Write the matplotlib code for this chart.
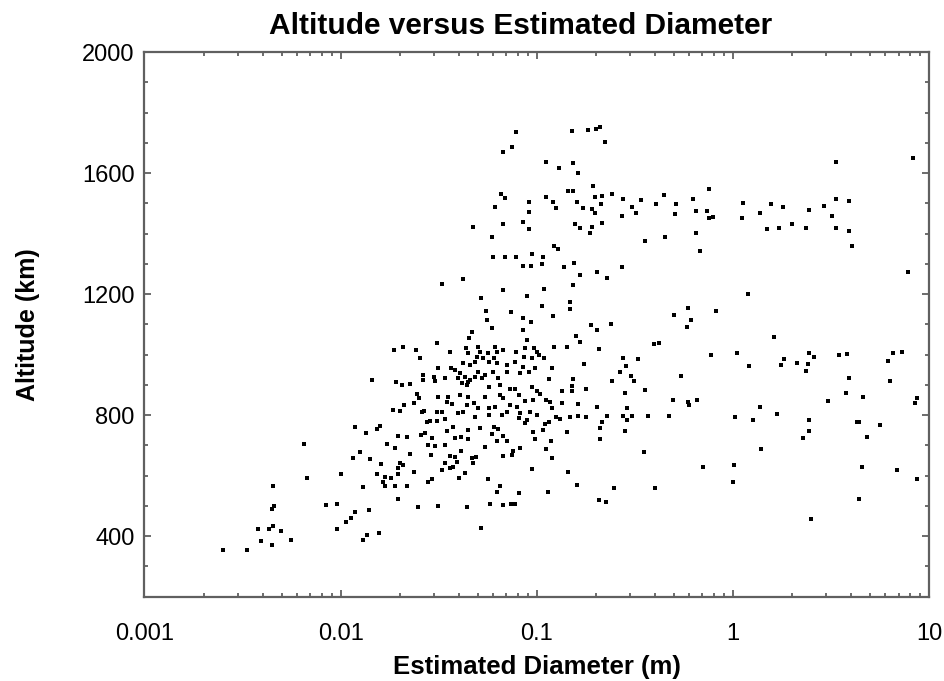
import numpy as np
import matplotlib
matplotlib.use("Agg")
import matplotlib.pyplot as plt
from matplotlib.ticker import FixedLocator, FixedFormatter, LogLocator, NullFormatter, MultipleLocator

plt.rcParams['font.family'] = ['Liberation Sans', 'DejaVu Sans']

# estimated diameter (m) and altitude (km) of each tracked object
diameter_m = [
    0.00250, 0.00332, 0.00391, 0.00445, 0.00380, 0.00432, 0.00450, 0.00495, 0.00558, 0.00450,
    0.00458, 0.00448, 0.00650, 0.00676, 0.00845, 0.00957, 0.00957, 0.0130, 0.0136, 0.0157,
    0.0188, 0.0208, 0.0242, 0.0254, 0.0309, 0.0312, 0.0145, 0.0192, 0.0205, 0.0227,
    0.0264, 0.0264, 0.0300, 0.0303, 0.0244, 0.0251, 0.0313, 0.0237, 0.0211, 0.0186,
    0.0200, 0.0259, 0.0267, 0.0309, 0.0119, 0.0134, 0.0153, 0.0159, 0.0197, 0.0218,
    0.0257, 0.0269, 0.0275, 0.0286, 0.0309, 0.0292, 0.0279, 0.0303, 0.0172, 0.0189,
    0.0125, 0.0115, 0.0141, 0.0226, 0.0289, 0.0161, 0.0200, 0.0208, 0.0197, 0.0100,
    0.0153, 0.0197, 0.0237, 0.0168, 0.0181, 0.0165, 0.0279, 0.0292, 0.0130, 0.0168,
    0.0189, 0.0218, 0.0197, 0.0247, 0.0119, 0.0140, 0.0113, 0.0106, 0.0312,
    0.0557, 0.0595, 0.0847, 0.0934, 0.0847, 0.0891, 0.0467, 0.0453, 0.0362, 0.0434,
    0.0444, 0.0504, 0.0515, 0.0494, 0.0535, 0.0564, 0.0614, 0.0626, 0.0608, 0.0677,
    0.0783, 0.0874, 0.0973, 0.0857, 0.0945, 0.0777, 0.0423, 0.0459, 0.0485, 0.0568,
    0.0626, 0.0704, 0.0847, 0.0981, 0.0366, 0.0383, 0.0407, 0.0504, 0.0546, 0.0601,
    0.0704, 0.0824, 0.0909, 0.0398, 0.0431, 0.0459, 0.0485, 0.0524, 0.0638, 0.0341,
    0.0415, 0.0440, 0.0448, 0.0568, 0.0651, 0.0732, 0.0777, 0.0945, 0.100, 0.0354,
    0.0407, 0.0448, 0.0546, 0.0651, 0.0677, 0.0810, 0.0874, 0.0961, 0.0347, 0.0369,
    0.0440, 0.0481, 0.0504, 0.0568, 0.0614, 0.0732, 0.0791, 0.0328, 0.0398, 0.0423,
    0.0568, 0.0664, 0.0704, 0.0824, 0.0927, 0.0999, 0.0485, 0.0810,
    0.121, 0.189, 0.202, 0.239, 0.158, 0.166, 0.123, 0.142, 0.209, 0.100,
    0.103, 0.109, 0.175, 0.120, 0.276, 0.330, 0.284, 0.266, 0.302, 0.313,
    0.243, 0.115, 0.154, 0.151, 0.152, 0.134, 0.178, 0.104, 0.282, 0.112,
    0.117, 0.134, 0.162, 0.202, 0.288, 0.120, 0.125, 0.148, 0.163, 0.178,
    0.228, 0.276, 0.305, 0.357,
    0.0341, 0.0891, 0.0347, 0.0376, 0.0448, 0.0515, 0.0608, 0.0638, 0.0874, 0.0961,
    0.0383, 0.0412, 0.0448, 0.0592, 0.0626, 0.0677, 0.0704, 0.0981, 0.0341, 0.0546,
    0.0411, 0.0824, 0.0760, 0.0677, 0.0748, 0.0362, 0.0383, 0.0467, 0.0489, 0.0341,
    0.0391, 0.0475, 0.0362, 0.0376, 0.0330, 0.0431, 0.0402, 0.0945, 0.0564, 0.0651,
    0.0626, 0.0810, 0.0442, 0.0575, 0.0672, 0.0739, 0.0777, 0.0520,
    0.110, 0.115, 0.131, 0.215, 0.210, 0.288, 0.108, 0.142, 0.118, 0.210,
    0.282, 0.112, 0.120, 0.354, 0.144, 0.160, 0.114, 0.249, 0.207, 0.226,
    0.371, 0.401, 0.396, 0.422,
    0.0780, 0.0677, 0.0748, 0.151, 0.183, 0.201, 0.210, 0.223, 0.112, 0.130,
    0.154, 0.163, 0.194, 0.145, 0.154, 0.198, 0.215, 0.241, 0.274, 0.307,
    0.321, 0.271, 0.339, 0.406, 0.445, 0.0660, 0.0686, 0.0614, 0.0909, 0.0909,
    0.112, 0.121, 0.126, 0.160, 0.173, 0.191, 0.198, 0.212, 0.0472, 0.0672,
    0.0850, 0.0909, 0.0592, 0.157, 0.166, 0.191, 0.187, 0.215, 0.357, 0.451,
    0.123, 0.129, 0.0600, 0.0686, 0.0785, 0.0945, 0.108, 0.0850, 0.0934, 0.106,
    0.137, 0.155, 0.166, 0.202, 0.228, 0.271, 0.0328, 0.0423, 0.154, 0.0520,
    0.0677, 0.0897, 0.109, 0.0553, 0.0738, 0.106, 0.147, 0.147,
    3.36, 8.29, 0.759, 0.513, 0.625, 0.508, 0.649, 0.737, 0.759, 0.791,
    1.13, 1.12, 1.37, 1.57, 1.81, 2.45, 2.90, 3.36, 3.93, 3.20,
    1.49, 1.71, 2.01, 2.36, 3.36, 3.93, 4.07, 0.649, 0.681, 7.78,
    1.19, 0.822, 0.499, 0.590, 0.611, 0.586,
    0.544, 0.773, 1.05, 1.63, 1.21, 1.76, 1.83, 2.12, 2.45, 2.60,
    2.41, 2.36, 3.49, 3.84, 3.93, 6.21, 6.54, 7.27, 6.33, 0.493,
    0.594, 0.599, 0.660, 0.470, 1.03, 1.26, 1.38, 1.67, 1.40, 2.45,
    2.45, 2.27, 3.07, 3.78, 4.63, 4.29, 4.40, 4.86, 5.63, 0.703,
    1.01, 1.00, 2.50, 4.42, 4.58, 6.91, 8.69, 8.51, 8.69,
]

altitude_km = [
    355, 355, 385, 370, 425, 425, 435, 418, 387, 565,
    500, 490, 705, 591, 504, 505, 425, 387, 405, 411,
    1015, 1025, 1015, 990, 1037, 955, 915, 910, 900, 902,
    932, 916, 926, 913, 871, 857, 861, 840, 833, 817,
    813, 809, 813, 811, 762, 740, 754, 765, 732, 729,
    734, 740, 778, 780, 780, 725, 701, 699, 704, 692,
    677, 657, 655, 670, 668, 637, 641, 635, 626, 605,
    605, 605, 613, 595, 593, 580, 580, 588, 563, 566,
    567, 565, 523, 497, 479, 486, 459, 448, 501,
    1114, 1087, 1120, 1109, 1081, 1048, 1074, 1056, 1010, 1021,
    1004, 1026, 1010, 993, 988, 1004, 1026, 1010, 988, 1015,
    1010, 1021, 1021, 993, 988, 977, 971, 966, 977, 977,
    971, 966, 960, 957, 955, 949, 938, 943, 933, 943,
    942, 938, 942, 922, 927, 916, 927, 922, 924, 922,
    905, 900, 910, 894, 900, 886, 886, 894, 880, 861,
    866, 861, 861, 866, 856, 866, 847, 850, 842, 836,
    833, 839, 825, 822, 828, 833, 828, 811, 806, 811,
    800, 800, 811, 806, 811, 800, 795, 789,
    1128, 1098, 1081, 1100, 1062, 1043, 1026, 1026, 1018, 1010,
    999, 990, 968, 955, 988, 985, 963, 942, 930, 913,
    914, 919, 919, 897, 880, 880, 886, 869, 874, 850,
    842, 839, 836, 828, 825, 825, 795, 795, 798, 795,
    798, 798, 798, 883,
    787, 784, 747, 762, 751, 756, 762, 754, 773, 745,
    723, 729, 721, 737, 714, 732, 714, 721, 701, 696,
    681, 690, 681, 666, 668, 666, 663, 657, 663, 641,
    646, 641, 624, 629, 619, 610, 593, 622, 589, 567,
    547, 542, 495, 505, 503, 505, 505, 426,
    770, 776, 787, 776, 756, 784, 751, 743, 714, 721,
    747, 688, 659, 677, 611, 569, 545, 558, 519, 512,
    797, 558, 1035, 1037,
    1737, 1671, 1687, 1739, 1742, 1745, 1751, 1702, 1638, 1616,
    1632, 1599, 1557, 1541, 1541, 1522, 1524, 1531, 1513, 1489,
    1469, 1458, 1511, 1498, 1526, 1531, 1519, 1487, 1503, 1470,
    1522, 1505, 1484, 1504, 1484, 1480, 1467, 1498, 1423, 1431,
    1439, 1414, 1390, 1432, 1417, 1421, 1403, 1434, 1375, 1390,
    1360, 1348, 1324, 1324, 1324, 1331, 1322, 1294, 1294, 1299,
    1289, 1302, 1263, 1274, 1254, 1291, 1232, 1250, 1230, 1186,
    1213, 1194, 1216, 1145, 1142, 1162, 1173, 1150,
    1636, 1651, 1546, 1498, 1513, 1465, 1474, 1474, 1451, 1454,
    1500, 1450, 1467, 1498, 1487, 1478, 1492, 1513, 1508, 1459,
    1414, 1419, 1432, 1419, 1419, 1409, 1359, 1401, 1341, 1272,
    1200, 1145, 1131, 1155, 1114, 1092,
    929, 999, 1004, 1059, 963, 966, 984, 971, 1004, 993,
    968, 947, 999, 1002, 924, 980, 1004, 1008, 914, 850,
    844, 833, 850, 797, 793, 784, 828, 804, 687, 784,
    748, 723, 848, 874, 861, 778, 776, 729, 767, 628,
    635, 580, 458, 522, 630, 619, 588, 841, 856,
]

x_ticks = [0.001, 0.01, 0.1, 1, 10]
x_tick_labels = ["0.001", "0.01", "0.1", "1", "10"]
y_ticks = [400, 800, 1200, 1600, 2000]

fig = plt.figure(figsize=(9.45, 6.81), dpi=100)
ax = fig.add_axes([0.1529, 0.1238, 0.8301, 0.7998])

ax.scatter(diameter_m, altitude_km, marker='s', s=10, c='black', linewidths=0)

ax.set_xscale('log')
ax.set_xlim(0.001, 10)
ax.set_ylim(200, 2000)

ax.xaxis.set_major_locator(FixedLocator(x_ticks))
ax.xaxis.set_major_formatter(FixedFormatter(x_tick_labels))
ax.xaxis.set_minor_locator(LogLocator(base=10, subs=np.arange(2, 10)))
ax.xaxis.set_minor_formatter(NullFormatter())
ax.yaxis.set_major_locator(FixedLocator(y_ticks))
ax.yaxis.set_minor_locator(MultipleLocator(100))

for s in ax.spines.values():
    s.set_color('#606060')
    s.set_linewidth(1.6)

ax.tick_params(which='both', direction='in', top=True, right=True, color='#606060', width=1.3)
ax.tick_params(which='major', length=5, labelsize=17)
ax.tick_params(axis='x', which='major', pad=19)
ax.tick_params(axis='y', which='major', pad=7)
ax.tick_params(which='minor', length=3)

ax.set_xlabel('Estimated Diameter (m)', fontsize=18.5, fontweight='bold', labelpad=7)
ax.set_ylabel('Altitude (km)', fontsize=18, fontweight='bold', labelpad=30)
ax.set_title('Altitude versus Estimated Diameter', fontsize=21.5, fontweight='bold', x=0.48, pad=13)

fig.savefig('out.png', dpi=100)
